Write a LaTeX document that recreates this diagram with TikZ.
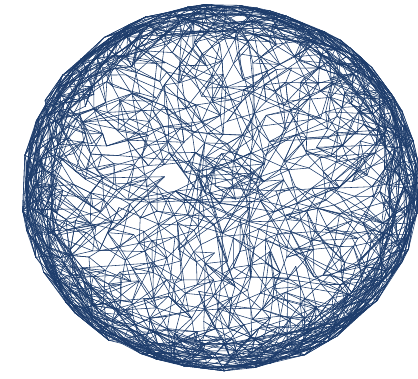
\documentclass[tikz,border=0pt]{standalone}
\usepackage{tikz}
\definecolor{meshcolor}{HTML}{1D3C6B}

\begin{document}
\begin{tikzpicture}[
    x=0.05cm, y=-0.05cm,
    link/.style={draw=meshcolor, line width=0.8pt, line cap=round, line join=round}
]
\clip (0,0) rectangle (418,378);
\pgfmathsetseed{2718}

% vertices on jittered rings: ring / radius / count / jitter
\foreach \k/\f/\cnt/\jit in {0/0.03/3/0.01, 1/0.085/8/0.025, 2/0.155/14/0.03, 3/0.225/19/0.03,
    4/0.30/26/0.03, 5/0.375/32/0.03, 6/0.45/39/0.03, 7/0.525/45/0.03,
    8/0.60/52/0.03, 9/0.675/58/0.03, 10/0.75/65/0.03, 11/0.815/70/0.025,
    12/0.865/80/0.02, 13/0.905/86/0.02, 14/0.94/90/0.018, 15/0.97/92/0.015,
    16/0.993/84/0.014} {
  \pgfmathsetmacro{\off}{rnd*360}
  \expandafter\xdef\csname rn\k\endcsname{\cnt}
  \expandafter\xdef\csname ro\k\endcsname{\off}
  \foreach \j in {1,...,\cnt} {
    \pgfmathsetmacro{\ang}{\off+(360/\cnt)*(\j+0.4*rand)}
    \pgfmathsetmacro{\rad}{\f+\jit*rand}
    \coordinate (v-\k-\j) at ({221+199*\rad*cos(\ang)},{187+184*\rad*sin(\ang)});
  }
}

% edges
\foreach \k in {0,...,16} {
  \edef\cnt{\csname rn\k\endcsname}
  \edef\oa{\csname ro\k\endcsname}
  \foreach \j in {1,...,\cnt} {
    % along the ring
    \pgfmathtruncatemacro{\coin}{rnd<(\k>11 ? 1 : 0.6)}
    \ifnum\coin=1
      \pgfmathtruncatemacro{\jn}{mod(\j+floor(rnd*2),\cnt)+1}
      \draw[link] (v-\k-\j) -- (v-\k-\jn);
    \fi
    \ifnum\k>11
      \pgfmathtruncatemacro{\jn}{mod(\j+1+floor(rnd*3),\cnt)+1}
      \draw[link] (v-\k-\j) -- (v-\k-\jn);
    \fi
    % chords across the middle
    \ifnum\k<4
      \pgfmathtruncatemacro{\jn}{mod(\j-1+round(\cnt*(0.2+0.2*rnd)),\cnt)+1}
      \draw[link] (v-\k-\j) -- (v-\k-\jn);
    \fi
    % outward
    \foreach \d/\pr/\spr in {1/1/1.5, 1/0.6/2.5, 2/0.75/3, 3/0.45/3.5, 4/0.25/3.5} {
      \pgfmathtruncatemacro{\kk}{\k+\d}
      \pgfmathtruncatemacro{\coin}{(rnd<\pr) && (\kk<17)}
      \ifnum\coin=1
        \edef\cntb{\csname rn\kk\endcsname}
        \edef\ob{\csname ro\kk\endcsname}
        \pgfmathtruncatemacro{\jb}{mod(round(((\oa-\ob)/360+\j/\cnt)*\cntb+\spr*rand)+20*\cntb-1,\cntb)+1}
        \draw[link] (v-\k-\j) -- (v-\kk-\jb);
      \fi
    }
    % extra links inside the rim band
    \ifnum\k>10
      \foreach \d in {1,2} {
        \pgfmathtruncatemacro{\kk}{min(\k+\d,16)}
        \edef\cntb{\csname rn\kk\endcsname}
        \edef\ob{\csname ro\kk\endcsname}
        \pgfmathtruncatemacro{\jb}{mod(round(((\oa-\ob)/360+\j/\cnt)*\cntb+4*rand)+20*\cntb-1,\cntb)+1}
        \draw[link] (v-\k-\j) -- (v-\kk-\jb);
      }
    \fi
  }
}
\end{tikzpicture}
\end{document}
